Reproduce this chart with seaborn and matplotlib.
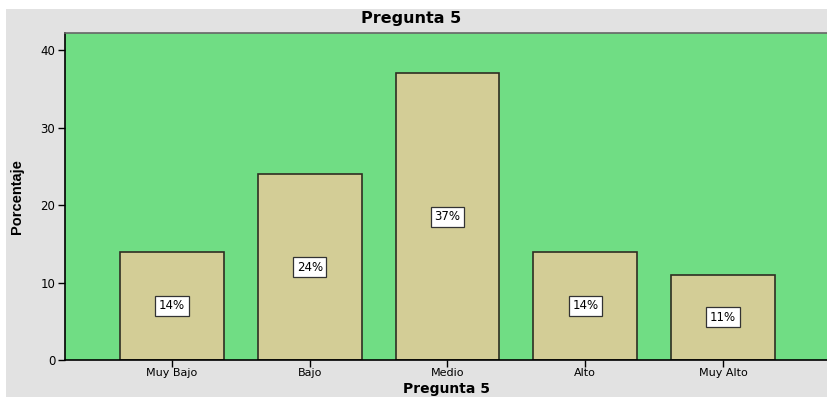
import matplotlib
matplotlib.use("Agg")
import matplotlib.pyplot as plt
from matplotlib.patches import Rectangle
import seaborn as sns
import pandas as pd

categories = ["Muy Bajo", "Bajo", "Medio", "Alto", "Muy Alto"]
percentages = [14, 24, 37, 14, 11]
value_labels = ["14%", "24%", "37%", "14%", "11%"]

sns.set_style("white")
plt.rcParams["font.family"] = ["DejaVu Sans"]
plt.rcParams["text.color"] = "black"
plt.rcParams["axes.labelcolor"] = "black"

W, H = 828, 397
fig = plt.figure(figsize=(W / 100, H / 100), dpi=100)
fig.patch.set_facecolor("white")
# grey panel behind the chart
fig.add_artist(Rectangle((6 / W, 0), 1, 1 - 9 / H, transform=fig.transFigure,
                         facecolor="#e2e2e2", edgecolor="none", zorder=0))

ax = fig.add_axes([65 / W, (H - 360) / H, (830 - 65) / W, (360 - 33) / H])
ax.set_facecolor("#70dd84")

df = pd.DataFrame({"cat": categories, "pct": percentages})
sns.barplot(data=df, x="cat", y="pct", order=categories, color="#d3cd96",
            saturation=1, width=0.755, edgecolor="#2e2e22", linewidth=1.2, ax=ax)

for i, (v, lab) in enumerate(zip(percentages, value_labels)):
    ax.text(i, v / 2, lab, ha="center", va="center", fontsize=8.5,
            color="black",
            bbox=dict(boxstyle="square,pad=0.3", facecolor="white",
                      edgecolor="#333333", linewidth=0.9))

ax.set_xlim(-0.777, 4.777)
ax.set_ylim(0, 42.2)
ax.set_yticks([0, 10, 20, 30, 40])
ax.tick_params(axis="both", direction="out", length=5, width=1, colors="black",
               labelcolor="black", labelsize=8.5, left=True, bottom=True, pad=2)
ax.tick_params(axis="x", labelsize=8, pad=0.5)

for side in ["left", "bottom"]:
    ax.spines[side].set_color("black")
    ax.spines[side].set_linewidth(1.2)
ax.spines["top"].set_color("#666666")
ax.spines["top"].set_linewidth(1.2)
ax.spines["right"].set_visible(False)

ax.set_xlabel("")
ax.set_ylabel("Porcentaje", fontsize=10.5, fontweight="bold",
              family=["Liberation Sans Narrow", "Liberation Sans", "DejaVu Sans"])
ax.yaxis.set_label_coords(-0.054, 0.5)
fig.text(447 / W, 1 - 389.5 / H, "Pregunta 5", ha="center", va="center",
         fontsize=10, fontweight="bold", color="black")
fig.text(411 / W, 1 - 18 / H, "Pregunta 5", ha="center", va="center",
         fontsize=11.5, fontweight="bold", color="black")

fig.savefig("out.png", dpi=100)
